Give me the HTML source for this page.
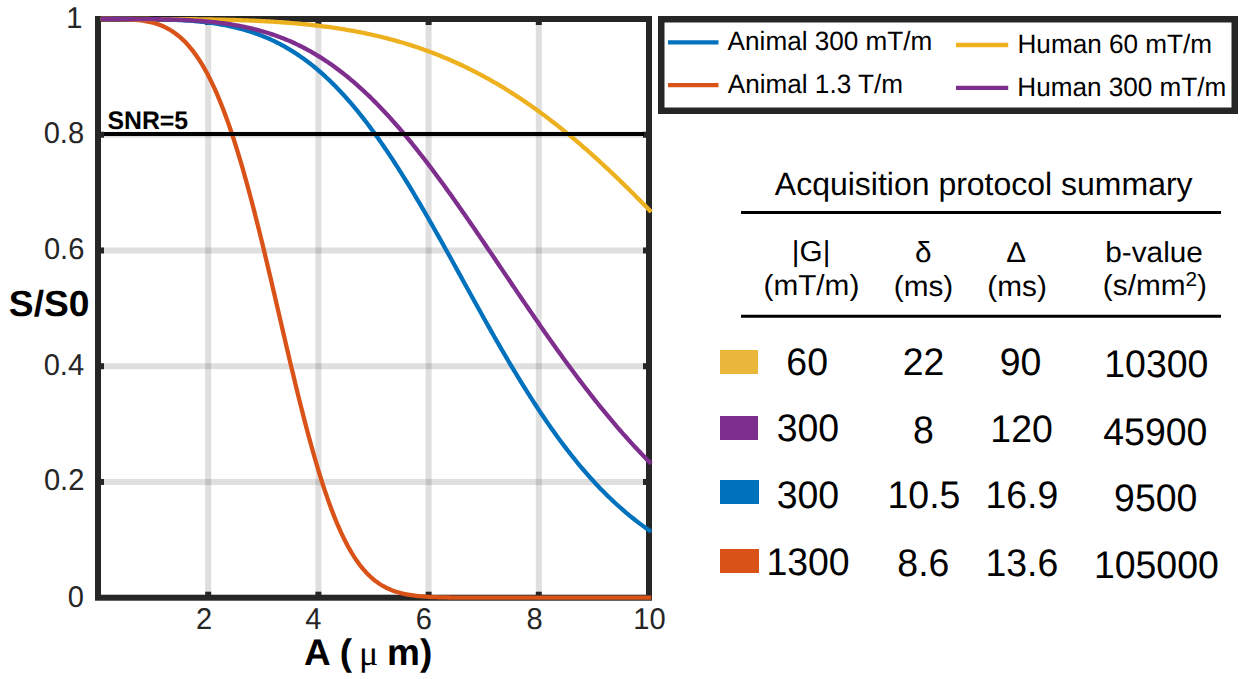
<!DOCTYPE html>
<html><head><meta charset="utf-8"><style>
html,body{margin:0;padding:0;background:#fff;}
body{width:1252px;height:679px;overflow:hidden;position:relative;}
svg{position:absolute;left:0;top:0;font-family:"Liberation Sans", sans-serif;text-rendering:geometricPrecision;}
</style></head><body>
<svg width="1252" height="679" viewBox="0 0 1252 679">
<line x1="208.20" y1="19" x2="208.20" y2="597.7" stroke="#262626" stroke-opacity="0.15" stroke-width="6"/>
<line x1="318.40" y1="19" x2="318.40" y2="597.7" stroke="#262626" stroke-opacity="0.15" stroke-width="6"/>
<line x1="428.60" y1="19" x2="428.60" y2="597.7" stroke="#262626" stroke-opacity="0.15" stroke-width="6"/>
<line x1="538.80" y1="19" x2="538.80" y2="597.7" stroke="#262626" stroke-opacity="0.15" stroke-width="6"/>
<line x1="98" y1="481.96" x2="649" y2="481.96" stroke="#262626" stroke-opacity="0.15" stroke-width="6"/>
<line x1="98" y1="366.22" x2="649" y2="366.22" stroke="#262626" stroke-opacity="0.15" stroke-width="6"/>
<line x1="98" y1="250.48" x2="649" y2="250.48" stroke="#262626" stroke-opacity="0.15" stroke-width="6"/>
<line x1="98" y1="134.74" x2="649" y2="134.74" stroke="#262626" stroke-opacity="0.15" stroke-width="6"/>
<rect x="98" y="19" width="551" height="578.7" fill="none" stroke="#262626" stroke-width="6"/>
<line x1="208.20" y1="597.7" x2="208.20" y2="591.7" stroke="#262626" stroke-width="6"/>
<line x1="208.20" y1="19" x2="208.20" y2="25" stroke="#262626" stroke-width="6"/>
<line x1="318.40" y1="597.7" x2="318.40" y2="591.7" stroke="#262626" stroke-width="6"/>
<line x1="318.40" y1="19" x2="318.40" y2="25" stroke="#262626" stroke-width="6"/>
<line x1="428.60" y1="597.7" x2="428.60" y2="591.7" stroke="#262626" stroke-width="6"/>
<line x1="428.60" y1="19" x2="428.60" y2="25" stroke="#262626" stroke-width="6"/>
<line x1="538.80" y1="597.7" x2="538.80" y2="591.7" stroke="#262626" stroke-width="6"/>
<line x1="538.80" y1="19" x2="538.80" y2="25" stroke="#262626" stroke-width="6"/>
<line x1="98" y1="481.96" x2="104" y2="481.96" stroke="#262626" stroke-width="6"/>
<line x1="649" y1="481.96" x2="643" y2="481.96" stroke="#262626" stroke-width="6"/>
<line x1="98" y1="366.22" x2="104" y2="366.22" stroke="#262626" stroke-width="6"/>
<line x1="649" y1="366.22" x2="643" y2="366.22" stroke="#262626" stroke-width="6"/>
<line x1="98" y1="250.48" x2="104" y2="250.48" stroke="#262626" stroke-width="6"/>
<line x1="649" y1="250.48" x2="643" y2="250.48" stroke="#262626" stroke-width="6"/>
<line x1="98" y1="134.74" x2="104" y2="134.74" stroke="#262626" stroke-width="6"/>
<line x1="649" y1="134.74" x2="643" y2="134.74" stroke="#262626" stroke-width="6"/>
<polyline points="100.75,19.00 105.99,19.00 111.22,19.00 116.46,19.00 121.69,19.01 126.93,19.02 132.16,19.03 137.40,19.06 142.63,19.10 147.87,19.15 153.10,19.23 154.77,19.25 156.43,19.29 158.10,19.32 159.76,19.36 161.43,19.40 163.10,19.44 164.76,19.49 166.43,19.54 168.09,19.59 169.76,19.65 171.42,19.71 173.09,19.77 174.76,19.85 176.42,19.92 178.09,20.00 179.75,20.09 181.42,20.18 183.09,20.27 184.75,20.38 186.42,20.48 188.08,20.60 189.75,20.72 191.42,20.85 193.08,20.98 194.75,21.12 196.41,21.27 198.08,21.43 199.75,21.59 201.41,21.76 203.08,21.94 204.74,22.13 206.41,22.33 208.07,22.53 209.74,22.75 211.41,22.98 213.07,23.21 214.74,23.46 216.40,23.71 218.07,23.98 219.74,24.26 221.40,24.55 223.07,24.85 224.73,25.16 226.40,25.48 228.07,25.82 229.73,26.17 231.40,26.53 233.06,26.91 234.73,27.30 236.39,27.70 238.06,28.11 239.73,28.55 241.39,28.99 243.06,29.45 244.72,29.93 246.39,30.42 248.06,30.93 249.72,31.45 251.39,31.99 253.05,32.54 254.72,33.12 256.39,33.71 258.05,34.31 259.72,34.94 261.38,35.58 263.05,36.25 264.72,36.93 266.38,37.63 268.05,38.34 269.71,39.08 271.38,39.84 273.04,40.62 274.71,41.42 276.38,42.23 278.04,43.07 279.71,43.93 281.37,44.82 283.04,45.72 284.71,46.65 286.37,47.59 288.04,48.56 289.70,49.55 291.37,50.57 293.04,51.61 294.70,52.67 296.37,53.75 298.03,54.86 299.70,55.99 301.37,57.15 303.03,58.33 304.70,59.53 306.36,60.76 308.03,62.01 309.69,63.29 311.36,64.60 313.03,65.93 314.69,67.28 316.36,68.66 318.02,70.07 319.69,71.50 321.36,72.95 323.02,74.44 324.69,75.95 326.35,77.48 328.02,79.04 329.69,80.63 331.35,82.25 333.02,83.89 334.68,85.56 336.35,87.25 338.01,88.97 339.68,90.72 341.35,92.49 343.01,94.29 344.68,96.12 346.34,97.97 348.01,99.85 349.68,101.76 351.34,103.69 353.01,105.65 354.67,107.63 356.34,109.65 358.01,111.68 359.67,113.75 361.34,115.84 363.00,117.95 364.67,120.09 366.34,122.26 368.00,124.45 369.67,126.66 371.33,128.91 373.00,131.17 374.66,133.46 376.33,135.78 378.00,138.11 379.66,140.48 381.33,142.86 382.99,145.27 384.66,147.70 386.33,150.16 387.99,152.63 389.66,155.13 391.32,157.65 392.99,160.19 394.66,162.76 396.32,165.34 397.99,167.94 399.65,170.57 401.32,173.21 402.98,175.87 404.65,178.55 406.32,181.25 407.98,183.97 409.65,186.70 411.31,189.45 412.98,192.22 414.65,195.00 416.31,197.80 417.98,200.62 419.64,203.45 421.31,206.29 422.98,209.15 424.64,212.02 426.31,214.90 427.97,217.79 429.64,220.70 431.31,223.62 432.97,226.54 434.64,229.48 436.30,232.43 437.97,235.39 439.63,238.35 441.30,241.32 442.97,244.30 444.63,247.29 446.30,250.28 447.96,253.28 449.63,256.28 451.30,259.29 452.96,262.30 454.63,265.31 456.29,268.33 457.96,271.35 459.63,274.37 461.29,277.39 462.96,280.42 464.62,283.44 466.29,286.46 467.96,289.48 469.62,292.50 471.29,295.52 472.95,298.53 474.62,301.54 476.28,304.55 477.95,307.55 479.62,310.55 481.28,313.54 482.95,316.52 484.61,319.50 486.28,322.47 487.95,325.43 489.61,328.39 491.28,331.34 492.94,334.27 494.61,337.20 496.28,340.12 497.94,343.03 499.61,345.92 501.27,348.81 502.94,351.68 504.60,354.54 506.27,357.39 507.94,360.23 509.60,363.05 511.27,365.85 512.93,368.65 514.60,371.42 516.27,374.19 517.93,376.93 519.60,379.67 521.26,382.38 522.93,385.08 524.60,387.76 526.26,390.43 527.93,393.08 529.59,395.70 531.26,398.32 532.93,400.91 534.59,403.48 536.26,406.04 537.92,408.58 539.59,411.09 541.25,413.59 542.92,416.07 544.59,418.53 546.25,420.97 547.92,423.39 549.58,425.78 551.25,428.16 552.92,430.51 554.58,432.85 556.25,435.16 557.91,437.46 559.58,439.73 561.25,441.98 562.91,444.21 564.58,446.41 566.24,448.60 567.91,450.76 569.57,452.90 571.24,455.02 572.91,457.12 574.57,459.19 576.24,461.25 577.90,463.28 579.57,465.29 581.24,467.27 582.90,469.24 584.57,471.18 586.23,473.10 587.90,475.00 589.57,476.88 591.23,478.74 592.90,480.57 594.56,482.38 596.23,484.17 597.90,485.94 599.56,487.69 601.23,489.41 602.89,491.11 604.56,492.80 606.22,494.46 607.89,496.10 609.56,497.72 611.22,499.31 612.89,500.89 614.55,502.45 616.22,503.98 617.89,505.50 619.55,506.99 621.22,508.47 622.88,509.92 624.55,511.35 626.22,512.77 627.88,514.16 629.55,515.54 631.21,516.89 632.88,518.23 634.55,519.55 636.21,520.85 637.88,522.13 639.54,523.39 641.21,524.63 642.87,525.86 644.54,527.06 646.21,528.25 647.87,529.42 649.54,530.58 651.20,531.71" fill="none" stroke="#0072BD" stroke-width="4.3" stroke-linejoin="round"/>
<polyline points="100.75,19.00 105.99,19.00 111.22,19.01 116.46,19.05 121.69,19.13 126.93,19.29 132.16,19.56 137.40,19.99 142.63,20.63 147.87,21.54 153.10,22.77 154.77,23.25 156.43,23.76 158.10,24.32 159.76,24.93 161.43,25.59 163.10,26.31 164.76,27.08 166.43,27.90 168.09,28.79 169.76,29.74 171.42,30.75 173.09,31.84 174.76,32.99 176.42,34.22 178.09,35.53 179.75,36.92 181.42,38.39 183.09,39.94 184.75,41.58 186.42,43.32 188.08,45.14 189.75,47.06 191.42,49.08 193.08,51.20 194.75,53.43 196.41,55.76 198.08,58.19 199.75,60.74 201.41,63.40 203.08,66.18 204.74,69.07 206.41,72.08 208.07,75.21 209.74,78.46 211.41,81.83 213.07,85.33 214.74,88.95 216.40,92.70 218.07,96.58 219.74,100.58 221.40,104.72 223.07,108.98 224.73,113.37 226.40,117.89 228.07,122.54 229.73,127.31 231.40,132.21 233.06,137.24 234.73,142.39 236.39,147.66 238.06,153.06 239.73,158.57 241.39,164.21 243.06,169.95 244.72,175.81 246.39,181.78 248.06,187.85 249.72,194.02 251.39,200.30 253.05,206.66 254.72,213.12 256.39,219.66 258.05,226.29 259.72,232.99 261.38,239.76 263.05,246.60 264.72,253.50 266.38,260.45 268.05,267.46 269.71,274.50 271.38,281.59 273.04,288.70 274.71,295.84 276.38,303.00 278.04,310.17 279.71,317.34 281.37,324.51 283.04,331.68 284.71,338.83 286.37,345.96 288.04,353.06 289.70,360.12 291.37,367.15 293.04,374.12 294.70,381.04 296.37,387.91 298.03,394.70 299.70,401.42 301.37,408.07 303.03,414.63 304.70,421.10 306.36,427.47 308.03,433.75 309.69,439.92 311.36,445.99 313.03,451.94 314.69,457.77 316.36,463.48 318.02,469.07 319.69,474.53 321.36,479.86 323.02,485.06 324.69,490.13 326.35,495.05 328.02,499.84 329.69,504.49 331.35,509.00 333.02,513.37 334.68,517.60 336.35,521.69 338.01,525.64 339.68,529.44 341.35,533.11 343.01,536.64 344.68,540.03 346.34,543.29 348.01,546.41 349.68,549.40 351.34,552.26 353.01,555.00 354.67,557.61 356.34,560.10 358.01,562.47 359.67,564.72 361.34,566.87 363.00,568.90 364.67,570.82 366.34,572.65 368.00,574.37 369.67,576.00 371.33,577.53 373.00,578.98 374.66,580.34 376.33,581.62 378.00,582.82 379.66,583.95 381.33,585.00 382.99,585.99 384.66,586.91 386.33,587.77 387.99,588.57 389.66,589.31 391.32,590.01 392.99,590.65 394.66,591.25 396.32,591.80 397.99,592.31 399.65,592.78 401.32,593.22 402.98,593.62 404.65,593.99 406.32,594.33 407.98,594.64 409.65,594.92 411.31,595.19 412.98,595.43 414.65,595.65 416.31,595.85 417.98,596.03 419.64,596.19 421.31,596.34 422.98,596.48 424.64,596.61 426.31,596.72 427.97,596.82 429.64,596.91 431.31,597.00 432.97,597.07 434.64,597.14 436.30,597.20 437.97,597.26 439.63,597.30 441.30,597.35 442.97,597.39 444.63,597.42 446.30,597.45 447.96,597.48 449.63,597.51 451.30,597.53 452.96,597.55 454.63,597.57 456.29,597.58 457.96,597.60 459.63,597.61 461.29,597.62 462.96,597.63 464.62,597.64 466.29,597.65 467.96,597.65 469.62,597.66 471.29,597.66 472.95,597.67 474.62,597.67 476.28,597.68 477.95,597.68 479.62,597.68 481.28,597.68 482.95,597.69 484.61,597.69 486.28,597.69 487.95,597.69 489.61,597.69 491.28,597.69 492.94,597.69 494.61,597.70 496.28,597.70 497.94,597.70 499.61,597.70 501.27,597.70 502.94,597.70 504.60,597.70 506.27,597.70 507.94,597.70 509.60,597.70 511.27,597.70 512.93,597.70 514.60,597.70 516.27,597.70 517.93,597.70 519.60,597.70 521.26,597.70 522.93,597.70 524.60,597.70 526.26,597.70 527.93,597.70 529.59,597.70 531.26,597.70 532.93,597.70 534.59,597.70 536.26,597.70 537.92,597.70 539.59,597.70 541.25,597.70 542.92,597.70 544.59,597.70 546.25,597.70 547.92,597.70 549.58,597.70 551.25,597.70 552.92,597.70 554.58,597.70 556.25,597.70 557.91,597.70 559.58,597.70 561.25,597.70 562.91,597.70 564.58,597.70 566.24,597.70 567.91,597.70 569.57,597.70 571.24,597.70 572.91,597.70 574.57,597.70 576.24,597.70 577.90,597.70 579.57,597.70 581.24,597.70 582.90,597.70 584.57,597.70 586.23,597.70 587.90,597.70 589.57,597.70 591.23,597.70 592.90,597.70 594.56,597.70 596.23,597.70 597.90,597.70 599.56,597.70 601.23,597.70 602.89,597.70 604.56,597.70 606.22,597.70 607.89,597.70 609.56,597.70 611.22,597.70 612.89,597.70 614.55,597.70 616.22,597.70 617.89,597.70 619.55,597.70 621.22,597.70 622.88,597.70 624.55,597.70 626.22,597.70 627.88,597.70 629.55,597.70 631.21,597.70 632.88,597.70 634.55,597.70 636.21,597.70 637.88,597.70 639.54,597.70 641.21,597.70 642.87,597.70 644.54,597.70 646.21,597.70 647.87,597.70 649.54,597.70 651.20,597.70" fill="none" stroke="#D95319" stroke-width="4.3" stroke-linejoin="round"/>
<polyline points="100.75,19.00 105.99,19.00 111.22,19.00 116.46,19.00 121.69,19.00 126.93,19.00 132.16,19.00 137.40,19.01 142.63,19.01 147.87,19.02 153.10,19.03 154.77,19.03 156.43,19.03 158.10,19.04 159.76,19.04 161.43,19.05 163.10,19.05 164.76,19.06 166.43,19.06 168.09,19.07 169.76,19.08 171.42,19.09 173.09,19.09 174.76,19.10 176.42,19.11 178.09,19.12 179.75,19.13 181.42,19.14 183.09,19.15 184.75,19.17 186.42,19.18 188.08,19.19 189.75,19.21 191.42,19.22 193.08,19.24 194.75,19.26 196.41,19.27 198.08,19.29 199.75,19.31 201.41,19.33 203.08,19.36 204.74,19.38 206.41,19.40 208.07,19.43 209.74,19.46 211.41,19.48 213.07,19.51 214.74,19.54 216.40,19.57 218.07,19.61 219.74,19.64 221.40,19.68 223.07,19.71 224.73,19.75 226.40,19.79 228.07,19.83 229.73,19.88 231.40,19.92 233.06,19.97 234.73,20.02 236.39,20.07 238.06,20.12 239.73,20.17 241.39,20.23 243.06,20.29 244.72,20.35 246.39,20.41 248.06,20.47 249.72,20.54 251.39,20.61 253.05,20.68 254.72,20.75 256.39,20.83 258.05,20.90 259.72,20.98 261.38,21.07 263.05,21.15 264.72,21.24 266.38,21.33 268.05,21.42 269.71,21.52 271.38,21.61 273.04,21.71 274.71,21.82 276.38,21.93 278.04,22.03 279.71,22.15 281.37,22.26 283.04,22.38 284.71,22.50 286.37,22.63 288.04,22.76 289.70,22.89 291.37,23.02 293.04,23.16 294.70,23.31 296.37,23.45 298.03,23.60 299.70,23.75 301.37,23.91 303.03,24.07 304.70,24.24 306.36,24.40 308.03,24.58 309.69,24.75 311.36,24.93 313.03,25.12 314.69,25.30 316.36,25.50 318.02,25.69 319.69,25.90 321.36,26.10 323.02,26.31 324.69,26.53 326.35,26.75 328.02,26.97 329.69,27.20 331.35,27.43 333.02,27.67 334.68,27.91 336.35,28.16 338.01,28.41 339.68,28.67 341.35,28.93 343.01,29.20 344.68,29.48 346.34,29.76 348.01,30.04 349.68,30.33 351.34,30.62 353.01,30.92 354.67,31.23 356.34,31.54 358.01,31.86 359.67,32.18 361.34,32.51 363.00,32.85 364.67,33.19 366.34,33.54 368.00,33.89 369.67,34.25 371.33,34.61 373.00,34.98 374.66,35.36 376.33,35.75 378.00,36.14 379.66,36.53 381.33,36.94 382.99,37.35 384.66,37.76 386.33,38.19 387.99,38.62 389.66,39.06 391.32,39.50 392.99,39.95 394.66,40.41 396.32,40.87 397.99,41.35 399.65,41.82 401.32,42.31 402.98,42.80 404.65,43.31 406.32,43.81 407.98,44.33 409.65,44.85 411.31,45.38 412.98,45.92 414.65,46.47 416.31,47.02 417.98,47.58 419.64,48.15 421.31,48.73 422.98,49.31 424.64,49.91 426.31,50.51 427.97,51.11 429.64,51.73 431.31,52.36 432.97,52.99 434.64,53.63 436.30,54.28 437.97,54.94 439.63,55.60 441.30,56.28 442.97,56.96 444.63,57.65 446.30,58.35 447.96,59.06 449.63,59.78 451.30,60.50 452.96,61.24 454.63,61.98 456.29,62.73 457.96,63.49 459.63,64.26 461.29,65.04 462.96,65.82 464.62,66.62 466.29,67.42 467.96,68.24 469.62,69.06 471.29,69.89 472.95,70.73 474.62,71.58 476.28,72.44 477.95,73.31 479.62,74.18 481.28,75.07 482.95,75.97 484.61,76.87 486.28,77.78 487.95,78.71 489.61,79.64 491.28,80.58 492.94,81.53 494.61,82.49 496.28,83.46 497.94,84.44 499.61,85.42 501.27,86.42 502.94,87.43 504.60,88.44 506.27,89.47 507.94,90.50 509.60,91.55 511.27,92.60 512.93,93.66 514.60,94.74 516.27,95.82 517.93,96.91 519.60,98.01 521.26,99.12 522.93,100.24 524.60,101.36 526.26,102.50 527.93,103.65 529.59,104.80 531.26,105.97 532.93,107.14 534.59,108.33 536.26,109.52 537.92,110.72 539.59,111.94 541.25,113.16 542.92,114.39 544.59,115.63 546.25,116.87 547.92,118.13 549.58,119.40 551.25,120.67 552.92,121.96 554.58,123.25 556.25,124.56 557.91,125.87 559.58,127.19 561.25,128.52 562.91,129.86 564.58,131.20 566.24,132.56 567.91,133.92 569.57,135.30 571.24,136.68 572.91,138.07 574.57,139.47 576.24,140.87 577.90,142.29 579.57,143.71 581.24,145.15 582.90,146.59 584.57,148.04 586.23,149.49 587.90,150.96 589.57,152.43 591.23,153.91 592.90,155.40 594.56,156.90 596.23,158.41 597.90,159.92 599.56,161.44 601.23,162.97 602.89,164.50 604.56,166.05 606.22,167.60 607.89,169.16 609.56,170.72 611.22,172.29 612.89,173.87 614.55,175.46 616.22,177.05 617.89,178.65 619.55,180.26 621.22,181.87 622.88,183.49 624.55,185.12 626.22,186.76 627.88,188.40 629.55,190.04 631.21,191.69 632.88,193.35 634.55,195.02 636.21,196.69 637.88,198.36 639.54,200.05 641.21,201.73 642.87,203.43 644.54,205.13 646.21,206.83 647.87,208.54 649.54,210.26 651.20,211.98" fill="none" stroke="#EDB120" stroke-width="4.3" stroke-linejoin="round"/>
<polyline points="100.75,19.00 105.99,19.00 111.22,19.00 116.46,19.00 121.69,19.01 126.93,19.01 132.16,19.02 137.40,19.04 142.63,19.07 147.87,19.11 153.10,19.17 154.77,19.19 156.43,19.21 158.10,19.23 159.76,19.26 161.43,19.29 163.10,19.32 164.76,19.35 166.43,19.39 168.09,19.43 169.76,19.47 171.42,19.52 173.09,19.57 174.76,19.62 176.42,19.67 178.09,19.73 179.75,19.79 181.42,19.86 183.09,19.93 184.75,20.00 186.42,20.08 188.08,20.17 189.75,20.25 191.42,20.35 193.08,20.44 194.75,20.55 196.41,20.65 198.08,20.77 199.75,20.89 201.41,21.01 203.08,21.14 204.74,21.28 206.41,21.42 208.07,21.57 209.74,21.73 211.41,21.90 213.07,22.07 214.74,22.24 216.40,22.43 218.07,22.62 219.74,22.83 221.40,23.04 223.07,23.25 224.73,23.48 226.40,23.71 228.07,23.96 229.73,24.21 231.40,24.47 233.06,24.75 234.73,25.03 236.39,25.32 238.06,25.62 239.73,25.93 241.39,26.25 243.06,26.59 244.72,26.93 246.39,27.29 248.06,27.65 249.72,28.03 251.39,28.42 253.05,28.82 254.72,29.24 256.39,29.66 258.05,30.10 259.72,30.55 261.38,31.02 263.05,31.49 264.72,31.99 266.38,32.49 268.05,33.01 269.71,33.54 271.38,34.09 273.04,34.65 274.71,35.22 276.38,35.81 278.04,36.42 279.71,37.04 281.37,37.67 283.04,38.32 284.71,38.99 286.37,39.67 288.04,40.37 289.70,41.08 291.37,41.81 293.04,42.56 294.70,43.32 296.37,44.11 298.03,44.90 299.70,45.72 301.37,46.55 303.03,47.40 304.70,48.26 306.36,49.15 308.03,50.05 309.69,50.97 311.36,51.91 313.03,52.86 314.69,53.84 316.36,54.83 318.02,55.84 319.69,56.87 321.36,57.92 323.02,58.99 324.69,60.07 326.35,61.18 328.02,62.30 329.69,63.44 331.35,64.61 333.02,65.79 334.68,66.99 336.35,68.21 338.01,69.45 339.68,70.71 341.35,71.98 343.01,73.28 344.68,74.60 346.34,75.93 348.01,77.29 349.68,78.66 351.34,80.06 353.01,81.47 354.67,82.91 356.34,84.36 358.01,85.83 359.67,87.32 361.34,88.83 363.00,90.36 364.67,91.91 366.34,93.48 368.00,95.07 369.67,96.67 371.33,98.30 373.00,99.94 374.66,101.61 376.33,103.29 378.00,104.99 379.66,106.71 381.33,108.44 382.99,110.20 384.66,111.97 386.33,113.76 387.99,115.57 389.66,117.40 391.32,119.24 392.99,121.10 394.66,122.98 396.32,124.88 397.99,126.79 399.65,128.72 401.32,130.66 402.98,132.62 404.65,134.60 406.32,136.60 407.98,138.61 409.65,140.63 411.31,142.67 412.98,144.73 414.65,146.80 416.31,148.88 417.98,150.98 419.64,153.09 421.31,155.22 422.98,157.36 424.64,159.52 426.31,161.68 427.97,163.86 429.64,166.06 431.31,168.26 432.97,170.48 434.64,172.71 436.30,174.95 437.97,177.21 439.63,179.47 441.30,181.74 442.97,184.03 444.63,186.32 446.30,188.63 447.96,190.95 449.63,193.27 451.30,195.60 452.96,197.95 454.63,200.30 456.29,202.66 457.96,205.03 459.63,207.40 461.29,209.78 462.96,212.17 464.62,214.57 466.29,216.97 467.96,219.38 469.62,221.80 471.29,224.22 472.95,226.65 474.62,229.08 476.28,231.51 477.95,233.95 479.62,236.40 481.28,238.85 482.95,241.30 484.61,243.75 486.28,246.21 487.95,248.67 489.61,251.14 491.28,253.60 492.94,256.07 494.61,258.54 496.28,261.01 497.94,263.48 499.61,265.95 501.27,268.42 502.94,270.89 504.60,273.36 506.27,275.83 507.94,278.30 509.60,280.77 511.27,283.24 512.93,285.70 514.60,288.17 516.27,290.63 517.93,293.09 519.60,295.54 521.26,298.00 522.93,300.45 524.60,302.89 526.26,305.34 527.93,307.78 529.59,310.21 531.26,312.64 532.93,315.07 534.59,317.49 536.26,319.90 537.92,322.31 539.59,324.72 541.25,327.12 542.92,329.51 544.59,331.90 546.25,334.27 547.92,336.65 549.58,339.01 551.25,341.37 552.92,343.72 554.58,346.07 556.25,348.40 557.91,350.73 559.58,353.05 561.25,355.36 562.91,357.66 564.58,359.95 566.24,362.24 567.91,364.51 569.57,366.78 571.24,369.04 572.91,371.28 574.57,373.52 576.24,375.75 577.90,377.97 579.57,380.17 581.24,382.37 582.90,384.56 584.57,386.73 586.23,388.90 587.90,391.05 589.57,393.19 591.23,395.32 592.90,397.44 594.56,399.55 596.23,401.65 597.90,403.73 599.56,405.81 601.23,407.87 602.89,409.92 604.56,411.95 606.22,413.98 607.89,415.99 609.56,417.99 611.22,419.98 612.89,421.95 614.55,423.92 616.22,425.87 617.89,427.80 619.55,429.73 621.22,431.64 622.88,433.54 624.55,435.42 626.22,437.29 627.88,439.15 629.55,441.00 631.21,442.83 632.88,444.65 634.55,446.45 636.21,448.25 637.88,450.02 639.54,451.79 641.21,453.54 642.87,455.28 644.54,457.00 646.21,458.71 647.87,460.41 649.54,462.09 651.20,463.76" fill="none" stroke="#7E2F8E" stroke-width="4.3" stroke-linejoin="round"/>
<line x1="104" y1="134" x2="644" y2="134" stroke="#000" stroke-width="4"/>
<rect x="661.25" y="19.25" width="573.5" height="91.5" fill="#fff" stroke="#262626" stroke-width="6.5"/>
<line x1="668" y1="42.35" x2="718.5" y2="42.35" stroke="#0072BD" stroke-width="4.3"/>
<line x1="668" y1="85.15" x2="718.5" y2="85.15" stroke="#D95319" stroke-width="4.3"/>
<line x1="956" y1="45.0" x2="1008.2" y2="45.0" stroke="#EDB120" stroke-width="4.3"/>
<line x1="956" y1="87.9" x2="1008.2" y2="87.9" stroke="#7E2F8E" stroke-width="4.3"/>
<line x1="741" y1="212.5" x2="1221" y2="212.5" stroke="#000" stroke-width="3"/>
<line x1="741" y1="316.3" x2="1221" y2="316.3" stroke="#000" stroke-width="3"/>
<rect x="720" y="350" width="38" height="24" fill="#EBB73B"/>
<rect x="720" y="416" width="38" height="24" fill="#7E2F8E"/>
<rect x="720" y="480" width="39" height="24" fill="#0072BD"/>
<rect x="720" y="549" width="39" height="24" fill="#D95319"/>
<text x="304" y="665" font-weight="bold" font-size="37" fill="#000">A (<tspan x="359" font-family='"Liberation Serif", serif' font-weight="normal" font-size="36">μ</tspan><tspan x="387">m)</tspan></text>
<text transform="translate(82.56,27.67) scale(1,1.0310)" text-anchor="end" font-size="29.10" font-weight="normal" fill="#262626">1</text>
<text transform="translate(84.10,143.37) scale(1,1.0310)" text-anchor="end" font-size="29.10" font-weight="normal" fill="#262626">0.8</text>
<text transform="translate(84.38,258.90) scale(1,1.0310)" text-anchor="end" font-size="29.10" font-weight="normal" fill="#262626">0.6</text>
<text transform="translate(84.09,374.81) scale(1,1.0310)" text-anchor="end" font-size="29.10" font-weight="normal" fill="#262626">0.4</text>
<text transform="translate(84.39,489.95) scale(1,1.0310)" text-anchor="end" font-size="29.10" font-weight="normal" fill="#262626">0.2</text>
<text transform="translate(84.02,606.89) scale(1,1.0310)" text-anchor="end" font-size="29.10" font-weight="normal" fill="#262626">0</text>
<text transform="translate(204.07,629.45) scale(1,1.0310)" text-anchor="middle" font-size="29.10" font-weight="normal" fill="#262626">2</text>
<text transform="translate(313.45,629.18) scale(1,1.0310)" text-anchor="middle" font-size="29.10" font-weight="normal" fill="#262626">4</text>
<text transform="translate(423.92,629.01) scale(1,1.0310)" text-anchor="middle" font-size="29.10" font-weight="normal" fill="#262626">6</text>
<text transform="translate(534.48,629.01) scale(1,1.0310)" text-anchor="middle" font-size="29.10" font-weight="normal" fill="#262626">8</text>
<text transform="translate(649.39,628.90) scale(1,1.0310)" text-anchor="middle" font-size="29.10" font-weight="normal" fill="#262626">10</text>
<text transform="translate(107.47,128.67) scale(1,1.0226)" text-anchor="start" font-size="24.82" font-weight="bold" fill="#000">SNR=5</text>
<text transform="translate(8.85,315.87) scale(1,0.9757)" text-anchor="start" font-size="37.21" font-weight="bold" fill="#000">S/S0</text>
<text transform="translate(727.62,50.08) scale(1,1.0131)" text-anchor="start" font-size="26.14" font-weight="normal" fill="#000">Animal 300 mT/m</text>
<text transform="translate(727.75,93.21) scale(1,1.0131)" text-anchor="start" font-size="26.14" font-weight="normal" fill="#000">Animal 1.3 T/m</text>
<text transform="translate(1017.48,53.16) scale(1,1.0131)" text-anchor="start" font-size="26.14" font-weight="normal" fill="#000">Human 60 mT/m</text>
<text transform="translate(1017.28,96.33) scale(1,1.0131)" text-anchor="start" font-size="26.14" font-weight="normal" fill="#000">Human 300 mT/m</text>
<text transform="translate(983.69,194.54) scale(1,1.0061)" text-anchor="middle" font-size="31.99" font-weight="normal" fill="#000">Acquisition protocol summary</text>
<text transform="translate(811.11,261.17) scale(1,0.9683)" text-anchor="middle" font-size="29.76" font-weight="normal" fill="#000">|G|</text>
<text transform="translate(811.38,295.10) scale(1,0.9683)" text-anchor="middle" font-size="29.76" font-weight="normal" fill="#000">(mT/m)</text>
<text transform="translate(923.19,261.87) scale(1,0.9683)" text-anchor="middle" font-size="29.76" font-weight="normal" fill="#000">δ</text>
<text transform="translate(923.47,295.52) scale(1,0.9683)" text-anchor="middle" font-size="29.76" font-weight="normal" fill="#000">(ms)</text>
<text transform="translate(1016.27,261.58) scale(1,0.9683)" text-anchor="middle" font-size="29.76" font-weight="normal" fill="#000">Δ</text>
<text transform="translate(1017.08,295.55) scale(1,0.9683)" text-anchor="middle" font-size="29.76" font-weight="normal" fill="#000">(ms)</text>
<text transform="translate(1154.05,261.66) scale(1,0.9683)" text-anchor="middle" font-size="29.76" font-weight="normal" fill="#000">b-value</text>
<text transform="translate(1154.91,295.35) scale(1,0.9683)" text-anchor="middle" font-size="29.76" font-weight="normal" fill="#000">(s/mm<tspan dy="-0.46em" font-size="0.7em">2</tspan><tspan dy="0.322em">)</tspan></text>
<text transform="translate(807.14,374.61) scale(1,1.0272)" text-anchor="middle" font-size="37.43" font-weight="normal" fill="#000">60</text>
<text transform="translate(923.48,375.44) scale(1,1.0272)" text-anchor="middle" font-size="37.43" font-weight="normal" fill="#000">22</text>
<text transform="translate(1020.59,375.11) scale(1,1.0272)" text-anchor="middle" font-size="37.43" font-weight="normal" fill="#000">90</text>
<text transform="translate(1156.33,377.42) scale(1,1.0272)" text-anchor="middle" font-size="37.43" font-weight="normal" fill="#000">10300</text>
<text transform="translate(807.85,441.00) scale(1,1.0272)" text-anchor="middle" font-size="37.43" font-weight="normal" fill="#000">300</text>
<text transform="translate(923.43,442.72) scale(1,1.0272)" text-anchor="middle" font-size="37.43" font-weight="normal" fill="#000">8</text>
<text transform="translate(1021.55,442.17) scale(1,1.0272)" text-anchor="middle" font-size="37.43" font-weight="normal" fill="#000">120</text>
<text transform="translate(1155.33,444.78) scale(1,1.0272)" text-anchor="middle" font-size="37.43" font-weight="normal" fill="#000">45900</text>
<text transform="translate(807.85,507.94) scale(1,1.0272)" text-anchor="middle" font-size="37.43" font-weight="normal" fill="#000">300</text>
<text transform="translate(923.93,508.23) scale(1,1.0272)" text-anchor="middle" font-size="37.43" font-weight="normal" fill="#000">10.5</text>
<text transform="translate(1021.85,508.27) scale(1,1.0272)" text-anchor="middle" font-size="37.43" font-weight="normal" fill="#000">16.9</text>
<text transform="translate(1155.69,511.01) scale(1,1.0272)" text-anchor="middle" font-size="37.43" font-weight="normal" fill="#000">9500</text>
<text transform="translate(808.02,574.79) scale(1,1.0272)" text-anchor="middle" font-size="37.43" font-weight="normal" fill="#000">1300</text>
<text transform="translate(923.38,575.76) scale(1,1.0272)" text-anchor="middle" font-size="37.43" font-weight="normal" fill="#000">8.6</text>
<text transform="translate(1021.80,575.74) scale(1,1.0272)" text-anchor="middle" font-size="37.43" font-weight="normal" fill="#000">13.6</text>
<text transform="translate(1156.36,578.26) scale(1,1.0272)" text-anchor="middle" font-size="37.43" font-weight="normal" fill="#000">105000</text>
</svg>
</body></html>
